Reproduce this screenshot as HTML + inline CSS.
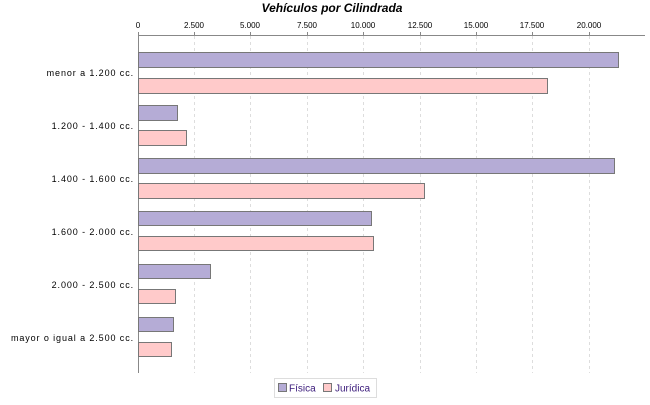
<!DOCTYPE html>
<html><head><meta charset="utf-8"><style>
body{margin:0;background:#fff;width:650px;height:400px;overflow:hidden;font-family:"Liberation Sans",sans-serif;}
</style></head><body>
<svg width="650" height="400" xmlns="http://www.w3.org/2000/svg" font-family="Liberation Sans, sans-serif">
<text x="332" y="12" text-anchor="middle" font-size="12" font-weight="bold" font-style="italic">Vehículos por Cilindrada</text>
<g font-size="8" text-anchor="middle" fill="#000">
<text x="138" y="28">0</text><text x="194" y="28">2.500</text><text x="250" y="28">5.000</text><text x="307" y="28">7.500</text><text x="363" y="28">10.000</text><text x="420" y="28">12.500</text><text x="476" y="28">15.000</text><text x="532" y="28">17.500</text><text x="589" y="28">20.000</text>
</g>
<g stroke="#ddd" stroke-dasharray="3,3" stroke-width="1">
<line x1="194.5" y1="36" x2="194.5" y2="373"/><line x1="250.5" y1="36" x2="250.5" y2="373"/><line x1="307.5" y1="36" x2="307.5" y2="373"/><line x1="363.5" y1="36" x2="363.5" y2="373"/><line x1="420.5" y1="36" x2="420.5" y2="373"/><line x1="476.5" y1="36" x2="476.5" y2="373"/><line x1="532.5" y1="36" x2="532.5" y2="373"/><line x1="589.5" y1="36" x2="589.5" y2="373"/>
</g>
<line x1="138" y1="35.5" x2="645" y2="35.5" stroke="#888"/>
<line x1="138.5" y1="35" x2="138.5" y2="373" stroke="#888"/>
<g stroke="#888" stroke-width="1">
<line x1="138.5" y1="32" x2="138.5" y2="35"/><line x1="194.5" y1="32" x2="194.5" y2="35"/><line x1="250.5" y1="32" x2="250.5" y2="35"/><line x1="307.5" y1="32" x2="307.5" y2="35"/><line x1="363.5" y1="32" x2="363.5" y2="35"/><line x1="420.5" y1="32" x2="420.5" y2="35"/><line x1="476.5" y1="32" x2="476.5" y2="35"/><line x1="532.5" y1="32" x2="532.5" y2="35"/><line x1="589.5" y1="32" x2="589.5" y2="35"/>
</g>
<g stroke="#777" stroke-width="1">
<g fill="#b5acd6">
<rect x="138.5" y="52.5" width="480" height="15"/>
<rect x="138.5" y="105.5" width="39" height="15"/>
<rect x="138.5" y="158.5" width="476" height="15"/>
<rect x="138.5" y="211.5" width="233" height="14"/>
<rect x="138.5" y="264.5" width="72" height="14"/>
<rect x="138.5" y="317.5" width="35" height="14"/>
</g>
<g fill="#ffcaca">
<rect x="138.5" y="78.5" width="409" height="15"/>
<rect x="138.5" y="130.5" width="48" height="15"/>
<rect x="138.5" y="183.5" width="286" height="15"/>
<rect x="138.5" y="236.5" width="235" height="14"/>
<rect x="138.5" y="289.5" width="37" height="14"/>
<rect x="138.5" y="342.5" width="33" height="14"/>
</g>
</g>
<g font-size="9" text-anchor="end" fill="#000" letter-spacing="0.9">
<text x="134" y="76">menor a 1.200 cc.</text>
<text x="134" y="129">1.200 - 1.400 cc.</text>
<text x="134" y="182">1.400 - 1.600 cc.</text>
<text x="134" y="235">1.600 - 2.000 cc.</text>
<text x="134" y="288">2.000 - 2.500 cc.</text>
<text x="134" y="341">mayor o igual a 2.500 cc.</text>
</g>
<rect x="274.5" y="378.5" width="102" height="19" fill="#fff" stroke="#ddd"/>
<rect x="278.5" y="383.5" width="8" height="8" fill="#b5acd6" stroke="#777"/>
<text x="289" y="391.5" font-size="10" fill="#3a1a7a">Física</text>
<rect x="323.5" y="383.5" width="8" height="8" fill="#ffcaca" stroke="#777"/>
<text x="335" y="391.5" font-size="10" fill="#3a1a7a">Jurídica</text>
</svg>
</body></html>
